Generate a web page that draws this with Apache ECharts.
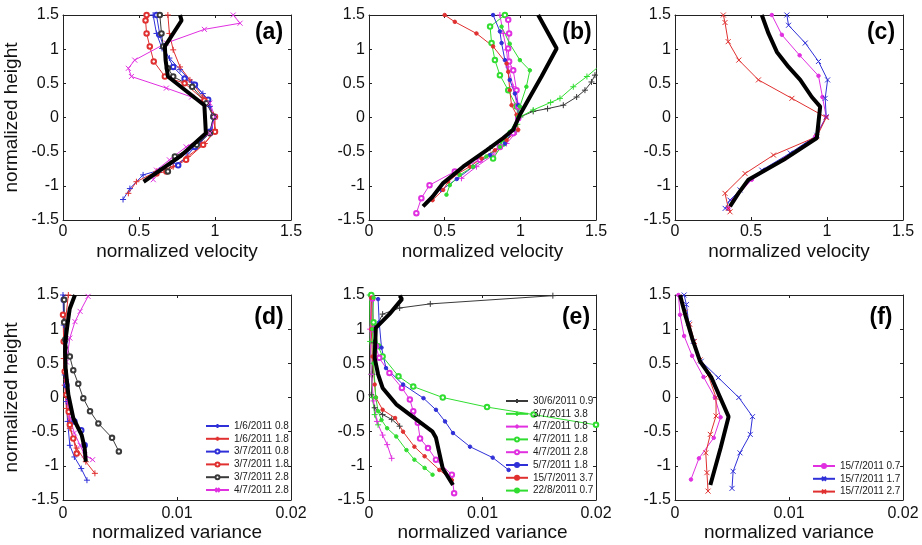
<!DOCTYPE html>
<html><head><meta charset="utf-8">
<script src="https://cdn.jsdelivr.net/npm/echarts@6/dist/echarts.min.js"></script>
<style>html,body{margin:0;padding:0;background:#fff}#c{width:922px;height:545px}</style>
</head><body><div id="c"></div>
<script>
// ---------- tick labels / axis ranges ----------
const heightTicks = [-1.5, -1, -0.5, 0, 0.5, 1, 1.5];
const velocityTicks = [0, 0.5, 1, 1.5];
const varianceTicks = [0, 0.01, 0.02];
const panelLabels = ['(a)', '(b)', '(c)', '(d)', '(e)', '(f)'];

// ---------- legend names ----------
const namesAD = ['1/6/2011 0.8', '1/6/2011 1.8', '3/7/2011 0.8', '3/7/2011 1.8', '3/7/2011 2.8', '4/7/2011 2.8'];
const namesBE = ['30/6/2011 0.9', '3/7/2011 3.8', '4/7/2011 0.8', '4/7/2011 1.8', '4/7/2011 2.8 ', '5/7/2011 1.8', '15/7/2011 3.7', '22/8/2011 0.7'];
const namesCF = ['15/7/2011 0.7', '15/7/2011 1.7', '15/7/2011 2.7'];

// ---------- panel (a): normalized velocity [x, height] ----------
const velA_1606_08 = [[0.593,1.5],[0.615,1.23],[0.652,1.01],[0.70,0.87],[0.77,0.70],[0.846,0.52],[0.92,0.35],[0.966,0.16],[0.99,-0.01],[0.98,-0.18],[0.90,-0.38],[0.81,-0.52],[0.725,-0.67],[0.637,-0.77],[0.527,-0.84],[0.44,-1.04],[0.395,-1.2]];
const velA_1606_18 = [[0.69,1.5],[0.70,1.23],[0.725,0.99],[0.77,0.74],[0.835,0.55],[0.92,0.30],[0.99,0.04],[1.0,-0.18],[0.933,-0.38],[0.82,-0.57],[0.725,-0.72],[0.615,-0.79],[0.483,-0.94],[0.43,-1.11]];
const velA_0307_08 = [[0.615,1.5],[0.637,1.21],[0.66,1.04],[0.725,0.74],[0.80,0.57],[0.868,0.48],[0.955,0.26],[0.99,0.01],[0.966,-0.21],[0.868,-0.43],[0.758,-0.70]];
const velA_0307_18 = [[0.55,1.5],[0.543,1.42],[0.55,1.23],[0.571,1.04],[0.597,0.82],[0.67,0.60],[0.80,0.50],[0.93,0.25],[1.0,0.01],[1.0,-0.21],[0.922,-0.40],[0.81,-0.62],[0.68,-0.79],[0.615,-0.82]];
const velA_0307_28 = [[0.637,1.5],[0.648,1.23],[0.66,1.04],[0.69,0.72],[0.725,0.60],[0.85,0.45],[0.944,0.21],[0.99,0.01],[0.966,-0.23],[0.88,-0.40],[0.736,-0.57],[0.69,-0.79]];
const velA_0407_28 = [[1.12,1.5],[1.165,1.38],[0.93,1.29],[0.68,1.09],[0.472,0.84],[0.43,0.72],[0.45,0.6],[0.68,0.43],[0.846,0.30],[0.966,0.21],[1.0,0.01],[0.966,-0.23],[0.81,-0.43],[0.70,-0.62],[0.615,-0.77],[0.594,-0.91]];
const velA_mean = [[0.77,1.5],[0.78,1.42],[0.67,1.04],[0.675,0.84],[0.69,0.6],[0.93,0.18],[0.94,-0.23],[0.77,-0.57],[0.53,-0.94]];

// ---------- panel (b) ----------
const velB_3006_09 = [[0.80,-0.45],[0.88,-0.33],[0.953,-0.18],[1.0,0.01],[1.085,0.09],[1.18,0.13],[1.284,0.18],[1.372,0.30],[1.427,0.40],[1.47,0.52],[1.493,0.62],[1.6,0.8]];
const velB_0307_38 = [[0.90,-0.30],[0.98,-0.1],[1.0,0.01],[1.085,0.11],[1.20,0.22],[1.262,0.28],[1.35,0.45],[1.44,0.60],[1.504,0.72]];
const velB_0407_08 = [[0.865,1.5],[0.887,1.23],[0.909,0.99],[0.92,0.74],[0.953,0.45],[0.975,0.21],[0.986,-0.01],[0.975,-0.21],[0.909,-0.38],[0.82,-0.55],[0.71,-0.72],[0.611,-0.89]];
const velB_0407_18 = [[0.898,1.5],[0.80,1.33],[0.81,1.09],[0.832,0.84],[0.865,0.62],[0.92,0.40],[0.975,0.16],[0.986,0.01],[0.953,-0.21],[0.887,-0.38],[0.82,-0.60]];
const velB_0407_28 = [[0.92,1.43],[0.926,1.23],[0.92,1.01],[0.926,0.82],[0.953,0.69],[0.975,0.40],[0.986,0.16],[0.986,-0.01],[0.953,-0.23],[0.865,-0.43],[0.732,-0.62],[0.567,-0.79],[0.40,-0.99],[0.346,-1.18],[0.313,-1.40]];
const velB_0507_18 = [[0.82,1.5],[0.865,1.26],[0.876,1.09],[0.898,0.84],[0.93,0.55],[0.964,0.35],[0.986,0.18],[0.986,0.01],[0.953,-0.18],[0.898,-0.38],[0.80,-0.55],[0.688,-0.72],[0.58,-0.90],[0.479,-1.06]];
const velB_1507_37 = [[0.50,1.5],[0.567,1.40],[0.71,1.23],[0.82,1.04],[0.909,0.79],[0.92,0.67],[0.93,0.40],[0.942,0.18],[0.975,0.04],[0.986,-0.18],[0.909,-0.33],[0.832,-0.48],[0.743,-0.60],[0.666,-0.72],[0.589,-0.82],[0.523,-0.94],[0.49,-1.06],[0.42,-1.21]];
const velB_2208_07 = [[0.876,1.33],[0.93,1.08],[0.997,0.84],[1.063,0.69],[1.04,0.45],[0.997,0.16],[0.986,0.01],[0.93,-0.21],[0.865,-0.43],[0.776,-0.57],[0.688,-0.72],[0.60,-0.84],[0.534,-0.99],[0.512,-1.13]];
const velB_mean = [[1.118,1.5],[1.24,1.01],[1.14,0.6],[1.063,0.30],[0.997,0.04],[0.953,-0.18],[0.887,-0.30],[0.776,-0.48],[0.622,-0.72],[0.49,-0.96],[0.42,-1.16],[0.357,-1.30]];

// ---------- panel (c) ----------
const velC_1507_07 = [[0.637,1.5],[0.703,1.21],[0.82,0.91],[0.944,0.61],[0.97,0.30],[0.995,0.01],[0.922,-0.28],[0.725,-0.60],[0.505,-0.91],[0.384,-1.21],[0.351,-1.33]];
const velC_1507_17 = [[0.736,1.5],[0.747,1.35],[0.857,1.09],[0.944,0.82],[1.004,0.55],[0.988,0.28],[0.995,0.01],[0.933,-0.26],[0.758,-0.52],[0.571,-0.77],[0.428,-1.06],[0.362,-1.21],[0.33,-1.33]];
const velC_1507_27 = [[0.318,1.5],[0.329,1.39],[0.35,1.11],[0.42,0.84],[0.549,0.55],[0.769,0.28],[0.995,0.0],[0.933,-0.28],[0.648,-0.55],[0.461,-0.82],[0.329,-1.11],[0.351,-1.33],[0.362,-1.38]];
const velC_mean = [[0.571,1.5],[0.615,1.23],[0.67,0.96],[0.747,0.74],[0.824,0.55],[0.90,0.30],[0.955,0.16],[0.933,-0.30],[0.714,-0.62],[0.483,-0.91],[0.417,-1.11],[0.362,-1.30]];

// ---------- panel (d): normalized variance ----------
const varD_1606_08 = [[0.0,1.5],[0.00006,1.06],[0.00015,0.33],[0.0003,-0.06],[0.0004,-0.35],[0.0006,-0.70],[0.001,-0.87],[0.0016,-1.04],[0.0021,-1.21]];
const varD_1606_18 = [[0.00047,1.5],[0.0002,1.1],[0.00006,0.57],[0.00015,0.18],[0.0003,-0.16],[0.0006,-0.45],[0.0012,-0.74],[0.002,-0.94],[0.0028,-1.11]];
const varD_0307_08 = [[0.00006,1.43],[0.00015,0.82],[0.0003,0.18],[0.0006,-0.21],[0.001,-0.35],[0.0016,-0.48],[0.0019,-0.70]];
const varD_0307_18 = [[0.0,1.21],[0.00006,0.82],[0.00015,0.38],[0.0003,0.04],[0.0005,-0.21],[0.0006,-0.40],[0.0009,-0.60],[0.0012,-0.82]];
const varD_0307_28 = [[0.0001,1.43],[0.0001,1.1],[0.0002,0.85],[0.0006,0.6],[0.0009,0.40],[0.00134,0.2],[0.00178,-0.01],[0.00237,-0.2],[0.0031,-0.38],[0.0043,-0.59],[0.0049,-0.79]];
const varD_0407_28 = [[0.0022,1.48],[0.0015,1.26],[0.00105,1.11],[0.0006,0.87],[0.0003,0.52],[0.0003,0.23],[0.0004,-0.06],[0.0006,-0.30],[0.001,-0.52],[0.0015,-0.70],[0.0019,-0.84],[0.0026,-0.91]];
const varD_mean = [[0.00105,1.5],[0.00059,1.3],[0.00047,1.16],[0.0002,0.82],[0.00018,0.67],[0.00023,0.43],[0.00047,0.04],[0.0009,-0.30],[0.00164,-0.55],[0.0019,-0.74],[0.002,-0.94]];

// ---------- panel (e) ----------
const varE_3006_09 = [[0.0162,1.49],[0.0054,1.37],[0.0027,1.31],[0.0012,1.22],[0.0007,1.05],[0.0004,0.8],[0.0003,0.34],[0.0002,0.04],[0.0005,-0.15],[0.0012,-0.25],[0.002,-0.32],[0.0027,-0.42]];
const varE_0307_38 = [[0.00006,1.5],[0.0001,0.82],[0.0002,0.34],[0.0003,0.0],[0.0005,-0.25],[0.0008,-0.4]];
const varE_0407_08 = [[0.0002,1.48],[0.0001,1.0],[0.0002,0.34],[0.0004,-0.05],[0.0007,-0.35],[0.0012,-0.55],[0.0016,-0.69],[0.002,-0.89]];
const varE_0407_18 = [[0.0002,1.5],[0.0004,1.1],[0.0008,0.75],[0.0012,0.60],[0.0026,0.31],[0.0039,0.16],[0.0065,0.0],[0.0104,-0.14],[0.0145,-0.25],[0.02,-0.40],[0.024,-0.5]];
const varE_0407_28 = [[0.0003,1.45],[0.0004,1.0],[0.0006,0.75],[0.0009,0.58],[0.0018,0.36],[0.0029,0.14],[0.0036,-0.03],[0.0039,-0.2],[0.0043,-0.37],[0.0045,-0.6],[0.0052,-0.74],[0.0059,-0.91],[0.0073,-1.13],[0.0075,-1.40]];
const varE_0507_18 = [[0.0008,1.44],[0.0009,1.1],[0.0011,0.73],[0.0015,0.43],[0.003,0.19],[0.0048,-0.01],[0.0059,-0.18],[0.0067,-0.35],[0.0074,-0.52],[0.0089,-0.72],[0.0109,-0.88],[0.0123,-1.06]];
const varE_1507_37 = [[0.0002,1.46],[0.0002,1.0],[0.0003,0.6],[0.0005,0.19],[0.0006,0.0],[0.0012,-0.18],[0.0023,-0.30],[0.003,-0.50],[0.004,-0.72],[0.0049,-0.86],[0.0062,-1.06],[0.0073,-1.21]];
const varE_2208_07 = [[0.0004,1.46],[0.0003,1.0],[0.0004,0.5],[0.0006,0.0],[0.0008,-0.2],[0.0011,-0.33],[0.0016,-0.45],[0.0024,-0.57],[0.0033,-0.77],[0.004,-0.91],[0.0049,-1.03],[0.0056,-1.13]];
const varE_mean = [[0.0027,1.49],[0.0029,1.44],[0.0018,1.22],[0.0006,1.02],[0.0005,0.58],[0.0008,0.34],[0.0012,0.14],[0.0024,-0.1],[0.0036,-0.25],[0.0056,-0.50],[0.0059,-0.59],[0.0065,-1.04],[0.0074,-1.28]];

// ---------- panel (f) ----------
const varF_1507_07 = [[0.0003,1.5],[0.00044,1.21],[0.0008,0.90],[0.0015,0.61],[0.0025,0.30],[0.0035,0.0],[0.004,-0.29],[0.0034,-0.59],[0.0021,-0.89],[0.0014,-1.2]];
const varF_1507_17 = [[0.0008,1.5],[0.001,1.36],[0.0012,1.09],[0.0016,0.82],[0.0023,0.53],[0.0038,0.29],[0.0056,0.0],[0.0068,-0.28],[0.0066,-0.54],[0.0057,-0.81],[0.0051,-1.08],[0.005,-1.33]];
const varF_1507_27 = [[0.0009,1.25],[0.0013,1.07],[0.0017,0.82],[0.0022,0.55],[0.0029,0.33],[0.0036,0.0],[0.0036,-0.27],[0.0031,-0.54],[0.0027,-0.81],[0.0028,-1.1],[0.0029,-1.37]];
const varF_mean = [[0.00044,1.5],[0.0009,1.21],[0.0015,0.87],[0.0022,0.53],[0.0032,0.29],[0.0047,-0.28],[0.004,-0.74],[0.0031,-1.28]];

// ---------- styles ----------
const FONT = 'Liberation Sans, Arial, Helvetica, sans-serif';
const C = {b:'#3030d8', r:'#e03030', m:'#e030e0', g:'#30dd30', k:'#3a3a3a'};
const SYM = {
  plus: 'path://M5,0L5,10M0,5L10,5',
  cross: 'path://M0,0L10,10M10,0L0,10',
  circ: 'emptyCircle',
  star: 'circle'
};
const SIZE = {plus:6, cross:5, circ:4.5, star:3.5};

const grids = [
  {left:63, top:15, width:228, height:205},
  {left:369, top:15, width:227, height:205},
  {left:675, top:15, width:228, height:205},
  {left:63, top:295, width:228, height:205},
  {left:369, top:295, width:227, height:205},
  {left:675, top:295, width:228, height:205}
];

const xAxes = [], yAxes = [];
const axisLine = {show:true, onZero:false, lineStyle:{color:'#222', width:1}};
const tick = {show:true, inside:true, length:3, lineStyle:{color:'#222'}};
for (let i = 0; i < 6; i++) {
  const vel = i < 3;
  const top = i < 3;
  xAxes.push({
    type:'value', gridIndex:i, min:0, max: vel ? 1.5 : 0.02, interval: vel ? 0.5 : 0.01,
    axisLine, axisTick:tick, splitLine:{show:false},
    axisLabel:{color:'#111', fontSize:16, fontFamily:FONT, margin: top ? 4 : 6,
      formatter: v => (vel ? velocityTicks : varianceTicks).includes(+v.toFixed(3)) ? String(+v.toFixed(3)) : ''},
    name: vel ? 'normalized velocity' : 'normalized variance',
    nameLocation:'middle', nameGap: top ? 22 : 16,
    nameTextStyle:{color:'#111', fontSize:19, fontFamily:FONT}
  });
  yAxes.push({
    type:'value', gridIndex:i, min:-1.5, max:1.5, interval:0.5,
    axisLine, axisTick:tick, splitLine:{show:false},
    axisLabel:{color:'#111', fontSize:16, fontFamily:FONT, margin:4,
      formatter: v => heightTicks.includes(+v.toFixed(2)) ? String(+v.toFixed(2)) : ''},
    name: (i === 0 || i === 3) ? 'normalized height' : '',
    nameLocation:'middle', nameGap:42,
    nameTextStyle:{color:'#111', fontSize:19, fontFamily:FONT}
  });
}
for (let i = 0; i < 6; i++) {
  const vel = i < 3;
  xAxes.push({type:'value', gridIndex:i, position:'top', min:0, max: vel ? 1.5 : 0.02, interval: vel ? 0.5 : 0.01,
    axisLine, axisTick:tick, axisLabel:{show:false}, splitLine:{show:false}});
  yAxes.push({type:'value', gridIndex:i, position:'right', min:-1.5, max:1.5, interval:0.5,
    axisLine, axisTick:tick, axisLabel:{show:false}, splitLine:{show:false}});
}

const series = [];
function add(name, data, panel, color, sym) {
  series.push({
    type:'line', name, data, xAxisIndex:panel, yAxisIndex:panel,
    symbol: SYM[sym], symbolSize: SIZE[sym], showSymbol:true,
    lineStyle:{color, width:1}, itemStyle:{color, borderColor:color, borderWidth:1},
    clip:true, silent:true, z:2
  });
}
function addMean(data, panel) {
  series.push({
    type:'line', name:'mean'+panel, data, xAxisIndex:panel, yAxisIndex:panel,
    symbol:'none', lineStyle:{color:'#000', width:4}, itemStyle:{color:'#000'}, clip:true, silent:true, z:5
  });
}
// (a)
add(namesAD[0], velA_1606_08, 0, C.b, 'plus');
add(namesAD[1], velA_1606_18, 0, C.r, 'plus');
add(namesAD[2], velA_0307_08, 0, C.b, 'circ');
add(namesAD[3], velA_0307_18, 0, C.r, 'circ');
add(namesAD[4], velA_0307_28, 0, C.k, 'circ');
add(namesAD[5], velA_0407_28, 0, C.m, 'cross');
addMean(velA_mean, 0);
// (b)
add(namesBE[0], velB_3006_09, 1, C.k, 'plus');
add(namesBE[1], velB_0307_38, 1, C.g, 'plus');
add(namesBE[2], velB_0407_08, 1, C.m, 'plus');
add(namesBE[3], velB_0407_18, 1, C.g, 'circ');
add(namesBE[4], velB_0407_28, 1, C.m, 'circ');
add(namesBE[5], velB_0507_18, 1, C.b, 'star');
add(namesBE[6], velB_1507_37, 1, C.r, 'star');
add(namesBE[7], velB_2208_07, 1, C.g, 'star');
addMean(velB_mean, 1);
// (c)
add(namesCF[0], velC_1507_07, 2, C.m, 'star');
add(namesCF[1], velC_1507_17, 2, C.b, 'cross');
add(namesCF[2], velC_1507_27, 2, C.r, 'cross');
addMean(velC_mean, 2);
// (d)
add(namesAD[0], varD_1606_08, 3, C.b, 'plus');
add(namesAD[1], varD_1606_18, 3, C.r, 'plus');
add(namesAD[2], varD_0307_08, 3, C.b, 'circ');
add(namesAD[3], varD_0307_18, 3, C.r, 'circ');
add(namesAD[4], varD_0307_28, 3, C.k, 'circ');
add(namesAD[5], varD_0407_28, 3, C.m, 'cross');
addMean(varD_mean, 3);
// (e)
add(namesBE[0], varE_3006_09, 4, C.k, 'plus');
add(namesBE[1], varE_0307_38, 4, C.g, 'plus');
add(namesBE[2], varE_0407_08, 4, C.m, 'plus');
add(namesBE[3], varE_0407_18, 4, C.g, 'circ');
add(namesBE[4], varE_0407_28, 4, C.m, 'circ');
add(namesBE[5], varE_0507_18, 4, C.b, 'star');
add(namesBE[6], varE_1507_37, 4, C.r, 'star');
add(namesBE[7], varE_2208_07, 4, C.g, 'star');
addMean(varE_mean, 4);
// (f)
add(namesCF[0], varF_1507_07, 5, C.m, 'star');
add(namesCF[1], varF_1507_17, 5, C.b, 'cross');
add(namesCF[2], varF_1507_27, 5, C.r, 'cross');
addMean(varF_mean, 5);

function legend(names, left, top, w) {
  return {data:names, orient:'vertical', left, top, padding:0, itemWidth:w, itemHeight:5, itemGap:2.8,
    selectedMode:false, textStyle:{fontSize:10, lineHeight:10, height:10, color:'#222', fontFamily:FONT}};
}

const labelPos = [[269,33],[577,33],[881,33],[269,318],[576,318],[881,318]];
const graphic = panelLabels.map((t, i) => ({
  type:'text', x:labelPos[i][0], y:labelPos[i][1], silent:true,
  style:{text:t, font:'bold 23px ' + FONT, fill:'#000', textAlign:'center', textVerticalAlign:'middle'}
}));

const chart = echarts.init(document.getElementById('c'), null, {renderer:'canvas'});
chart.setOption({
  animation:false,
  backgroundColor:'#fff',
  grid:grids,
  xAxis:xAxes,
  yAxis:yAxes,
  legend:[legend(namesAD, 205, 421, 23), legend(namesBE, 505, 396, 22), legend(namesCF, 812, 461, 22)],
  graphic,
  series
});
</script></body></html>
